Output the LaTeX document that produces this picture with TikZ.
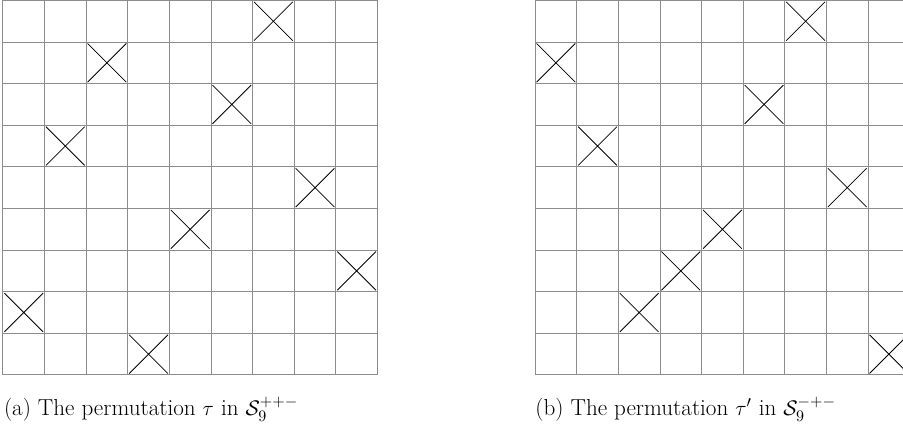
\documentclass[tikz,border=0pt]{standalone}
\usepackage{amsmath}
\usepackage{xcolor}
\usepackage{tikz}
\usetikzlibrary{shapes.misc}
\definecolor{gridgray}{RGB}{140,140,140}
\tikzset{
  board/.style={draw=gridgray,line width=0.6pt},
  mark cell/.style={cross out,draw=black,line width=0.55pt,minimum size=0.93cm,
    inner sep=0pt,outer sep=0pt},
  caption/.style={font=\fontsize{15.8}{19}\selectfont,inner sep=0pt,anchor=base west}
}
\begin{document}
\begin{tikzpicture}[x=1cm,y=1cm]
  \useasboundingbox (-0.07,-1.2) rectangle (21.63,9.01);

  % (a) tau
  \draw[board] (0,0) grid (9,9);
  \node[mark cell] (a1) at (6.5,8.5) {};
  \node[mark cell] (a2) at (2.5,7.5) {};
  \node[mark cell] (a3) at (5.5,6.5) {};
  \node[mark cell] (a4) at (1.5,5.5) {};
  \node[mark cell] (a5) at (7.5,4.5) {};
  \node[mark cell] (a6) at (4.5,3.5) {};
  \node[mark cell] (a7) at (8.5,2.5) {};
  \node[mark cell] (a8) at (0.5,1.5) {};
  \node[mark cell] (a9) at (3.5,0.5) {};
  \node[caption] (capa) at (0.02,-0.97) {(a) The permutation $\tau$ in $\mathcal{S}_9^{++-}$};

  % (b) tau'
  \begin{scope}[xshift=12.79cm]
    \draw[board] (0,0) grid (9,9);
    \node[mark cell] (b1) at (6.5,8.5) {};
    \node[mark cell] (b2) at (0.5,7.5) {};
    \node[mark cell] (b3) at (5.5,6.5) {};
    \node[mark cell] (b4) at (1.5,5.5) {};
    \node[mark cell] (b5) at (7.5,4.5) {};
    \node[mark cell] (b6) at (4.5,3.5) {};
    \node[mark cell] (b7) at (3.5,2.5) {};
    \node[mark cell] (b8) at (2.5,1.5) {};
    \node[mark cell] (b9) at (8.5,0.5) {};
    \node[caption] (capb) at (0,-0.97) {(b) The permutation $\tau'$ in $\mathcal{S}_9^{-+-}$};
  \end{scope}
\end{tikzpicture}
\end{document}
